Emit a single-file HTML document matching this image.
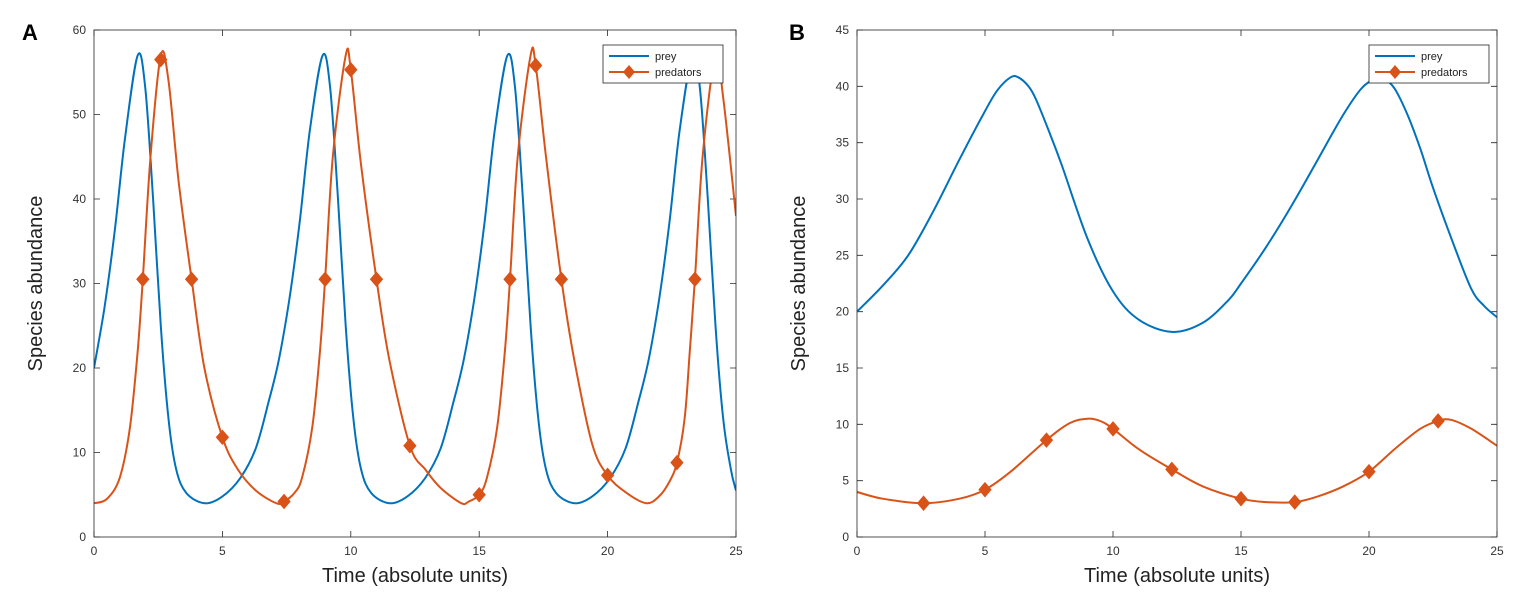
<!DOCTYPE html>
<html><head><meta charset="utf-8"><style>
body{margin:0;background:#fff;}
svg{display:block;font-family:"Liberation Sans",sans-serif;}
</style></head><body>
<svg id="fig" width="1518" height="600">
<text x="22" y="40" font-size="22" font-weight="bold">A</text>
<text x="789" y="40" font-size="22" font-weight="bold">B</text>
</svg>
<script>
// Panel A data
const aPreyT = [0,0.4,0.8,1.2,1.7,2.0,2.3,2.6,2.9,3.2,3.6,4.3,5.0,5.7,6.3,6.8,7.2,7.6,8.0,8.4,8.9,9.2,9.5,9.8,10.1,10.4,10.8,11.5,12.2,12.9,13.5,14.0,14.4,14.8,15.2,15.6,16.1,16.4,16.7,17.0,17.3,17.6,18.0,18.7,19.4,20.1,20.7,21.2,21.6,22.0,22.4,22.8,23.3,23.6,23.9,24.2,24.5,24.8,25];
const aPreyV = [20,27,36,47,57,53,40,25,14,8,5.2,4,4.8,7,10.5,16,21,28,37,48,57,53,40,25,14,8,5.2,4,4.8,7,10.5,16,21,28,37,48,57,53,40,25,14,8,5.2,4,4.8,7,10.5,16,21,28,37,48,57,53,40,25,14,8,5.5];
const aPredT = [0,0.5,1.0,1.4,1.7,1.9,2.2,2.6,2.9,3.3,3.8,4.3,5.0,5.6,6.3,7.1,7.4,7.8,8.1,8.5,8.8,9.0,9.3,9.8,10.0,10.4,11.0,11.5,12.3,12.9,13.5,14.3,14.6,15.0,15.3,15.7,16.0,16.2,16.5,17.0,17.2,17.6,18.2,18.7,19.4,20.0,20.7,21.5,22.0,22.4,22.7,23.0,23.2,23.4,23.7,24.2,24.5,25];
const aPredV = [4,4.5,7,13,22,30.5,45,57,54,42,30.5,20,11.8,8,5.5,4,4.2,5.2,7,13,22,30.5,45,57,55.3,44,30.5,21,10.8,8,5.8,4,4.2,5.0,7,13,22,30.5,45,57,55.8,45,30.5,21,11,7.3,5.3,4,4.8,6.5,8.8,14,22,30.5,45,57,52,38];
const aMarkT = [1.9,2.6,3.8,5.0,7.4,9.0,10.0,11.0,12.3,15.0,16.2,17.2,18.2,20.0,22.7,23.4];
const aMarkV = [30.5,56.5,30.5,11.8,4.2,30.5,55.3,30.5,10.8,5.0,30.5,55.8,30.5,7.3,8.8,30.5];
const aYTicks = [0,10,20,30,40,50,60];
const xTicks = [0,5,10,15,20,25];
// Panel B data
const bPreyT = [0,1,2,3,4,5,5.5,6,6.3,6.7,7,7.5,8,9,10,11,12.3,13.5,14.5,15,16,17,18,19,19.7,20.2,20.6,21,21.5,22,22.5,23.3,24,24.5,25];
const bPreyV = [20,22.3,25,29,33.5,37.8,39.7,40.8,40.8,40,38.8,36,33,26.5,21.8,19.3,18.2,19,21,22.5,25.8,29.5,33.5,37.5,39.8,40.6,40.6,39.8,37.5,34.5,31,26,22,20.5,19.5];
const bPredT = [0,1,2.6,4,5,6,7.4,8.3,9,9.5,10,11,12.3,13.5,15,16,17.1,18,19,20,21,22,22.7,23.2,24,25];
const bPredV = [4,3.4,3,3.4,4.2,5.8,8.6,10.1,10.5,10.3,9.6,7.8,6,4.5,3.4,3.1,3.1,3.6,4.5,5.8,7.8,9.6,10.3,10.4,9.6,8.1];
const bMarkT = [2.6,5,7.4,10,12.3,15,17.1,20,22.7];
const bMarkV = [3,4.2,8.6,9.6,6,3.4,3.1,5.8,10.3];
const bYTicks = [0,5,10,15,20,25,30,35,40,45];

const NS='http://www.w3.org/2000/svg';
const svg=document.getElementById('fig');
function mk(tag,attrs,parent){const e=document.createElementNS(NS,tag);for(const k in attrs)e.setAttribute(k,attrs[k]);(parent||svg).appendChild(e);return e;}
function pathFrom(T,V,sx,sy){
  const p=T.map((t,i)=>[sx(t),sy(V[i])]);
  let d='M'+p[0][0].toFixed(1)+','+p[0][1].toFixed(1);
  for(let i=0;i<p.length-1;i++){
    const p0=p[Math.max(0,i-1)],p1=p[i],p2=p[i+1],p3=p[Math.min(p.length-1,i+2)];
    const c1=[p1[0]+(p2[0]-p0[0])/6,p1[1]+(p2[1]-p0[1])/6];
    const c2=[p2[0]-(p3[0]-p1[0])/6,p2[1]-(p3[1]-p1[1])/6];
    d+='C'+c1[0].toFixed(1)+','+c1[1].toFixed(1)+' '+c2[0].toFixed(1)+','+c2[1].toFixed(1)+' '+p2[0].toFixed(1)+','+p2[1].toFixed(1);
  }
  return d;
}
function panel(id,L,R,T,B,ymax,yTicks,preyT,preyV,predT,predV,mT,mV,legX){
  const g=mk('g',{});
  
  
  const sx=t=>L+(R-L)*t/25, sy=v=>B-(B-T)*v/ymax;
  const clip=mk('clipPath',{id:id+'-clip'},g);mk('rect',{x:L,y:T,width:R-L,height:B-T},clip);
  xTicks.forEach(t=>{
    const x=sx(t);
    const tk=mk('path',{d:`M${x},${B}v-6M${x},${T}v6`,stroke:'#262626','stroke-width':0.8},g);
    
    
    const lb=mk('text',{x:x,y:B+18,'font-size':12,fill:'#333','text-anchor':'middle'},g);
    lb.textContent=t;
    
    
  });
  yTicks.forEach(v=>{
    const y=sy(v);
    const tk=mk('path',{d:`M${L},${y}h6M${R},${y}h-6`,stroke:'#262626','stroke-width':0.8},g);
    
    
    const lb=mk('text',{x:L-8,y:y+4,'font-size':12,fill:'#333','text-anchor':'end'},g);
    lb.textContent=v;
    
    
  });
  const cg=mk('g',{'clip-path':`url(#${id}-clip)`},g);
  const pl=mk('path',{d:pathFrom(preyT,preyV,sx,sy),fill:'none',stroke:'#0072BD','stroke-width':2},cg);
  
  
  const dl=mk('path',{d:pathFrom(predT,predV,sx,sy),fill:'none',stroke:'#D95319','stroke-width':2},cg);
  
  
  mT.forEach((t,i)=>{
    const x=sx(t),y=sy(mV[i]);
    const m=mk('path',{d:`M${x},${y-7}L${x+6},${y}L${x},${y+7}L${x-6},${y}Z`,fill:'#D95319',stroke:'#D95319'},g);
    
    
  });
  const box=mk('rect',{x:L,y:T,width:R-L,height:B-T,fill:'none',stroke:'#262626','stroke-width':0.8},g);
  
  
  const xt=mk('text',{x:(L+R)/2,y:B+45,'font-size':20,fill:'#222','text-anchor':'middle'},g);
  xt.textContent='Time (absolute units)';
  
  
  const cy=(T+B)/2, cxp=L-52;
  const yt=mk('text',{x:cxp,y:cy,'font-size':20,fill:'#222','text-anchor':'middle',transform:`rotate(-90 ${cxp} ${cy})`},g);
  yt.textContent='Species abundance';
  
  
  const lg=mk('g',{},g);
  
  
  mk('rect',{x:legX,y:T+15,width:120,height:38,fill:'#fff',stroke:'#262626','stroke-width':0.8},lg);
  mk('path',{d:`M${legX+6},${T+26}h40`,stroke:'#0072BD','stroke-width':2},lg);
  mk('path',{d:`M${legX+6},${T+42}h40`,stroke:'#D95319','stroke-width':2},lg);
  const lm=legX+26,ly=T+42;
  mk('path',{d:`M${lm},${ly-7}L${lm+6},${ly}L${lm},${ly+7}L${lm-6},${ly}Z`,fill:'#D95319'},lg);
  const t1=mk('text',{x:legX+52,y:T+30,'font-size':11,fill:'#222'},lg);t1.textContent='prey';
  
  
  const t2=mk('text',{x:legX+52,y:T+46,'font-size':11,fill:'#222'},lg);t2.textContent='predators';
  
  
}
panel('panel-a',94,736,30,537,60,aYTicks,aPreyT,aPreyV,aPredT,aPredV,aMarkT,aMarkV,603);
panel('panel-b',857,1497,30,537,45,bYTicks,bPreyT,bPreyV,bPredT,bPredV,bMarkT,bMarkV,1369);
</script>
</body></html>
